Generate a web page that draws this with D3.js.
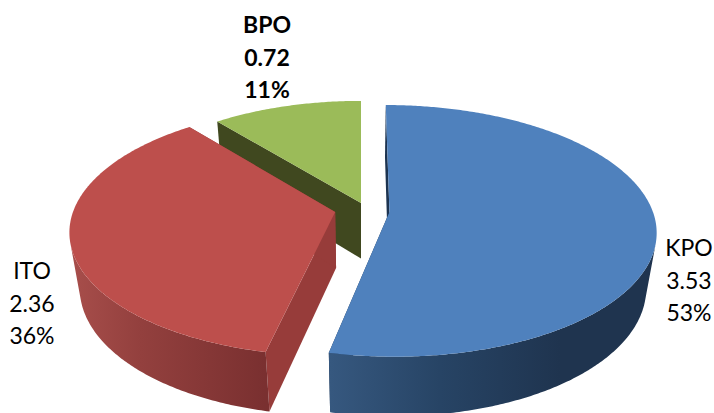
<!DOCTYPE html>
<html>
<head>
<meta charset="utf-8">
<script src="https://cdn.jsdelivr.net/npm/d3@7"></script>
<style>
    body { margin: 0; background: #fff; }
    svg { display: block; }
</style>
</head>
<body>
<div id="chart-container"></div>
<script>
// Data
const categories = ["KPO", "ITO", "BPO"];
const values = [3.53, 2.36, 0.72];

const width = 714;
const height = 413;

// Perspective of the pie: plane coords (X, Y), Z = 0 top face, Z = 1 bottom face
const view = { x0: 361, y0: 212, B: 263.5, A: 123, C: 58, k: 0.15, m: 0.036 };

function project(X, Y, Z) {
    const w = 1 - view.k * Y + view.m * Z;
    return [view.x0 + view.B * X / w, view.y0 + (view.A * Y + view.C * Z) / w];
}

// Explosion offset and radius per slice
const explode = [
    { dx: 0.108, dy: 0, r: 1 },
    { dx: -0.098, dy: 0, r: 0.995 },
    { dx: 0, dy: -0.075, r: 0.97 }
];

const topColors = ["#4f81bd", "#bd4f4c", "#9bbb59"];
const innerColors = ["#1c3350", "#973c3a", "#40481f"];
const wallStops = [
    [[330, "#36587f"], [440, "#274465"], [560, "#1f344f"], [660, "#1f344f"]],
    [[70, "#a84e4b"], [140, "#93403e"], [265, "#7a3030"]],
    [[210, "#40481f"], [360, "#40481f"]]
];

const labelPos = [
    { x: 689, y: 256, weight: 400 },
    { x: 32, y: 279, weight: 400 },
    { x: 267, y: 33, weight: 700 }
];

const total = d3.sum(values);
const pie = d3.pie().sort(null)(values);

const svg = d3.select("#chart-container")
    .append("svg")
    .attr("width", width)
    .attr("height", height)
    .style("font-family", "Lato, 'Open Sans', sans-serif");

const defs = svg.append("defs");
const line = d3.line();

function rim(i, a, Z) {
    const e = explode[i];
    return project(e.dx + e.r * Math.sin(a), e.dy - e.r * Math.cos(a), Z);
}

function apex(i, Z) {
    return project(explode[i].dx, explode[i].dy, Z);
}

// Horizontal gradient for the outer wall, in page pixels
wallStops.forEach((stops, i) => {
    const x0 = stops[0][0], x1 = stops[stops.length - 1][0];
    defs.append("linearGradient")
        .attr("id", "wall" + i)
        .attr("gradientUnits", "userSpaceOnUse")
        .attr("x1", x0).attr("x2", x1).attr("y1", 0).attr("y2", 0)
        .selectAll("stop")
        .data(stops)
        .enter()
        .append("stop")
        .attr("offset", d => (d[0] - x0) / (x1 - x0))
        .attr("stop-color", d => d[1]);
});

function drawSlice(i) {
    const d = pie[i];
    const g = svg.append("g");
    const steps = Math.ceil((d.endAngle - d.startAngle) / 0.01);
    const angles = d3.range(steps + 1).map(j => d.startAngle + (d.endAngle - d.startAngle) * j / steps);

    // Radial walls
    [d.startAngle, d.endAngle].forEach(a => {
        g.append("path")
            .attr("d", line([apex(i, 0), rim(i, a, 0), rim(i, a, 1), apex(i, 1)]) + "Z")
            .attr("fill", innerColors[i]);
    });

    // Outer wall: only the angles turned to the viewer
    const front = d3.pairs(angles).filter(([a0, a1]) =>
        d3.polygonArea([rim(i, a0, 0), rim(i, a1, 0), rim(i, a1, 1), rim(i, a0, 1)]) > 0);
    if (front.length) {
        const shown = [front[0][0]].concat(front.map(p => p[1]));
        const outline = shown.map(a => rim(i, a, 0))
            .concat(shown.slice().reverse().map(a => rim(i, a, 1)));
        g.append("path")
            .attr("d", line(outline) + "Z")
            .attr("fill", `url(#wall${i})`);
    }

    // Top face
    const top = [apex(i, 0)].concat(angles.map(a => rim(i, a, 0)));
    g.append("path")
        .attr("d", line(top) + "Z")
        .attr("fill", topColors[i]);
}

// Back to front
[2, 0, 1].forEach(drawSlice);

// Labels
const fmtPct = d3.format(".0%");
categories.forEach((name, i) => {
    const t = svg.append("text")
        .attr("x", labelPos[i].x)
        .attr("y", labelPos[i].y)
        .attr("text-anchor", "middle")
        .attr("fill", "#000")
        .style("font-size", "23px")
        .style("font-weight", labelPos[i].weight);
    [name, values[i].toFixed(2), fmtPct(values[i] / total)].forEach((s, j) => {
        t.append("tspan")
            .attr("x", labelPos[i].x)
            .attr("dy", j === 0 ? 0 : 32.5)
            .text(s);
    });
});
</script>
</body>
</html>
